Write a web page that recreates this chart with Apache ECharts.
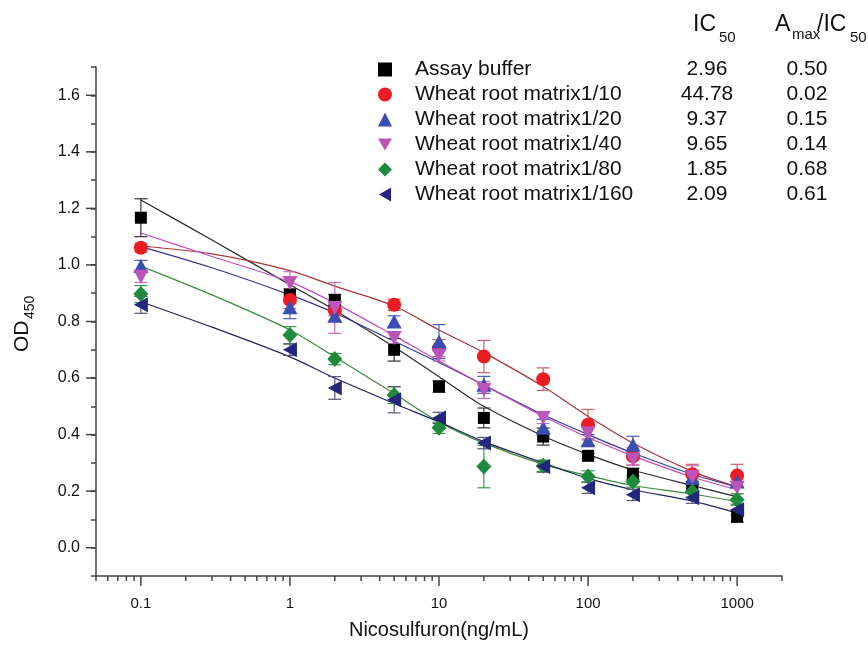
<!DOCTYPE html>
<html>
<head>
<meta charset="utf-8">
<script src="https://cdn.jsdelivr.net/npm/echarts@6/dist/echarts.min.js"></script>
<style>
html, body { margin: 0; padding: 0; background: #fff; }
#chart { width: 868px; height: 654px; }
</style>
</head>
<body>
<div id="chart"></div>
<script>
// concentrations (ng/mL)
var conc = [0.1, 1, 2, 5, 10, 20, 50, 100, 200, 500, 1000];

var names = ['Assay buffer', 'Wheat root matrix1/10', 'Wheat root matrix1/20',
             'Wheat root matrix1/40', 'Wheat root matrix1/80', 'Wheat root matrix1/160'];
var ic50 = ['2.96', '44.78', '9.37', '9.65', '1.85', '2.09'];
var ratio = ['0.50', '0.02', '0.15', '0.14', '0.68', '0.61'];

// measured OD450 and error
var bufferOD  = [1.167, 0.895, 0.876, 0.70, 0.57, 0.459, 0.393, 0.325, 0.261, 0.215, 0.11];
var bufferErr = [0.067, 0.02, 0.02, 0.04, 0.02, 0.035, 0.03, 0.01, 0.02, 0.02, 0.02];
var m10OD  = [1.061, 0.876, 0.84, 0.859, 0.706, 0.676, 0.596, 0.435, 0.323, 0.26, 0.255];
var m10Err = [0.015, 0.03, 0.02, 0.02, 0.03, 0.057, 0.04, 0.054, 0.03, 0.035, 0.04];
var m20OD  = [0.996, 0.85, 0.82, 0.80, 0.729, 0.576, 0.424, 0.38, 0.364, 0.247, 0.234];
var m20Err = [0.02, 0.04, 0.02, 0.02, 0.06, 0.03, 0.03, 0.02, 0.03, 0.02, 0.02];
var m40OD  = [0.958, 0.936, 0.848, 0.742, 0.68, 0.558, 0.459, 0.405, 0.311, 0.25, 0.212];
var m40Err = [0.02, 0.04, 0.09, 0.02, 0.02, 0.03, 0.02, 0.02, 0.02, 0.04, 0.02];
var m80OD  = [0.897, 0.752, 0.667, 0.54, 0.424, 0.287, 0.29, 0.252, 0.234, 0.199, 0.17];
var m80Err = [0.03, 0.03, 0.02, 0.03, 0.02, 0.075, 0.02, 0.02, 0.02, 0.02, 0.02];
var m160OD  = [0.859, 0.70, 0.565, 0.523, 0.459, 0.37, 0.287, 0.212, 0.187, 0.177, 0.134];
var m160Err = [0.03, 0.02, 0.04, 0.046, 0.02, 0.02, 0.02, 0.02, 0.02, 0.02, 0.02];

// fitted curves
var fitConc = [0.1, 0.3, 1, 2, 5, 10, 20, 50, 100, 200, 500, 1000];
var bufferFit = [1.23, 1.088, 0.93, 0.84, 0.71, 0.605, 0.50, 0.395, 0.33, 0.275, 0.22, 0.18];
var m10Fit  = [1.067, 1.039, 0.98, 0.925, 0.855, 0.77, 0.69, 0.57, 0.465, 0.37, 0.27, 0.215];
var m20Fit  = [1.065, 0.99, 0.894, 0.83, 0.73, 0.655, 0.575, 0.47, 0.40, 0.335, 0.26, 0.215];
var m40Fit  = [1.113, 1.03, 0.94, 0.865, 0.75, 0.66, 0.575, 0.465, 0.39, 0.325, 0.25, 0.205];
var m80Fit  = [0.996, 0.894, 0.77, 0.675, 0.545, 0.445, 0.37, 0.295, 0.255, 0.22, 0.19, 0.163];
var m160Fit = [0.87, 0.78, 0.675, 0.60, 0.51, 0.445, 0.375, 0.30, 0.245, 0.205, 0.165, 0.123];

// axis ticks
var xMajorTicks = [0.1, 1, 10, 100, 1000];
var xMinorTicks = [0.05, 0.06, 0.07, 0.08, 0.09,
                   0.2, 0.3, 0.4, 0.5, 0.6, 0.7, 0.8, 0.9,
                   2, 3, 4, 5, 6, 7, 8, 9,
                   20, 30, 40, 50, 60, 70, 80, 90,
                   200, 300, 400, 500, 600, 700, 800, 900, 2000];
var yMajorTicks = [0, 0.2, 0.4, 0.6, 0.8, 1.0, 1.2, 1.4, 1.6];

var odList = [bufferOD, m10OD, m20OD, m40OD, m80OD, m160OD];
var errList = [bufferErr, m10Err, m20Err, m40Err, m80Err, m160Err];
var fitList = [bufferFit, m10Fit, m20Fit, m40Fit, m80Fit, m160Fit];

var colors = ['#000000', '#ec1c24', '#3a4db0', '#bb55bb', '#1f8a3b', '#23267c'];
var lineColors = ['#2a2a2a', '#a8353a', '#34389a', '#c24cc2', '#3a8c3a', '#22225c'];
var errColors = ['#333333', '#d0606a', '#4a5ab8', '#c070c0', '#3a9a4a', '#555577'];
var symbols = ['rect', 'circle', 'triangle',
               'path://M0,0L2,0L1,1.732Z', 'diamond', 'path://M1.732,0L1.732,2L0,1Z'];
var sizes = [12, 14, [15, 14], [15, 14], [15, 16], [14, 15]];

var axisColor = '#444';
var font = 'Liberation Sans, Arial, sans-serif';

function errRender(params, api) {
    var x = api.value(0);
    var p1 = api.coord([x, api.value(1)]);
    var p2 = api.coord([x, api.value(2)]);
    var st = { stroke: api.visual('color'), lineWidth: 1.2 };
    return {
        type: 'group',
        children: [
            { type: 'line', shape: { x1: p1[0], y1: p1[1], x2: p2[0], y2: p2[1] }, style: st },
            { type: 'line', shape: { x1: p1[0] - 6.5, y1: p1[1], x2: p1[0] + 6.5, y2: p1[1] }, style: st },
            { type: 'line', shape: { x1: p2[0] - 6.5, y1: p2[1], x2: p2[0] + 6.5, y2: p2[1] }, style: st }
        ]
    };
}

var series = [];
for (var i = 0; i < 6; i++) {
    var fitData = [], pts = [], errs = [];
    for (var k = 0; k < fitConc.length; k++) {
        fitData.push([fitConc[k], fitList[i][k]]);
    }
    for (var j = 0; j < conc.length; j++) {
        pts.push([conc[j], odList[i][j]]);
        errs.push([conc[j], odList[i][j] - errList[i][j], odList[i][j] + errList[i][j]]);
    }
    series.push({
        name: 'fit' + i, type: 'line', data: fitData, smooth: 0.3,
        showSymbol: false, symbol: 'none', z: 2,
        lineStyle: { color: lineColors[i], width: 1.2 }
    });
    series.push({
        name: 'err' + i, type: 'custom', data: errs, renderItem: errRender,
        encode: { x: 0, y: [1, 2] }, itemStyle: { color: errColors[i] }, z: 3, silent: true
    });
    series.push({
        name: names[i], type: 'scatter', data: pts,
        symbol: symbols[i], symbolSize: sizes[i],
        itemStyle: { color: colors[i], opacity: 1 }, z: 4
    });
}

// x ticks (major and minor), y major ticks
function xTickRender(params, api) {
    var p = api.coord([api.value(0), -0.1]);
    var len = api.value(2);
    return { type: 'line', shape: { x1: p[0], y1: p[1], x2: p[0], y2: p[1] + len },
             style: { stroke: axisColor, lineWidth: 1.5 } };
}
function yTickRender(params, api) {
    var p = api.coord([0.05, api.value(1)]);
    return { type: 'line', shape: { x1: p[0] - 10, y1: p[1], x2: p[0], y2: p[1] },
             style: { stroke: axisColor, lineWidth: 1.5 } };
}
series.push({
    name: 'xticks', type: 'custom', renderItem: xTickRender, silent: true, z: 10,
    encode: { x: 0, y: 1 },
    data: xMajorTicks.map(function (v) { return [v, -0.1, 10]; })
        .concat(xMinorTicks.map(function (v) { return [v, -0.1, 5]; }))
});
series.push({
    name: 'yticks', type: 'custom', renderItem: yTickRender, silent: true, z: 10,
    encode: { x: 0, y: 1 },
    data: yMajorTicks.map(function (v) { return [0.05, v]; })
});

var option = {
    animation: false,
    backgroundColor: '#fff',
    textStyle: { fontFamily: font },
    grid: { left: 96, right: 86, top: 67, bottom: 78, containLabel: false },
    legend: {
        data: names,
        orient: 'vertical',
        left: 378, top: 59,
        padding: 0,
        itemWidth: 14, itemHeight: 14,
        itemGap: 4,
        selectedMode: false,
        itemStyle: { opacity: 1 },
        formatter: function (name) {
            var k = names.indexOf(name);
            return '{n|' + name + '}{a|' + ic50[k] + '}{b|' + ratio[k] + '}';
        },
        textStyle: {
            color: '#111',
            rich: {
                n: { fontSize: 21, width: 242, padding: [0, 0, 0, 18], lineHeight: 22, fontFamily: font },
                a: { fontSize: 21, width: 100, align: 'center', lineHeight: 22, fontFamily: font },
                b: { fontSize: 21, width: 100, align: 'center', lineHeight: 22, fontFamily: font }
            }
        }
    },
    xAxis: {
        type: 'log', logBase: 10, min: 0.05, max: 2000,
        name: 'Nicosulfuron(ng/mL)', nameLocation: 'middle', nameGap: 44,
        nameTextStyle: { fontSize: 20, color: '#111', fontFamily: font },
        axisLine: { onZero: false, lineStyle: { color: axisColor, width: 1.5 } },
        axisTick: { show: false },
        splitLine: { show: false },
        axisLabel: {
            margin: 20, fontSize: 15, color: '#111', fontFamily: font,
            formatter: function (v) {
                var l = Math.log10(v);
                if (Math.abs(l - Math.round(l)) > 1e-6) return '';
                return String(Math.pow(10, Math.round(l)) >= 1 ? Math.round(v) : Number(v.toPrecision(1)));
            }
        }
    },
    yAxis: {
        type: 'value', min: -0.1, max: 1.7, interval: 0.1,
        axisLine: { show: true, onZero: false, lineStyle: { color: axisColor, width: 1.5 } },
        axisTick: { show: true, length: 5, lineStyle: { color: axisColor, width: 1.5 } },
        splitLine: { show: false },
        axisLabel: {
            margin: 16, fontSize: 16, color: '#111', fontFamily: font,
            formatter: function (v) {
                var t = Math.round(v * 10);
                if (t < 0 || t % 2 !== 0) return '';
                return (t / 10).toFixed(1);
            }
        }
    },
    graphic: [
        { type: 'text', x: 693, y: 25, style: { text: 'IC', fill: '#111', font: '23px ' + font, verticalAlign: 'middle' } },
        { type: 'text', x: 719, y: 38, style: { text: '50', fill: '#111', font: '15px ' + font, verticalAlign: 'middle' } },
        { type: 'text', x: 775, y: 25, style: { text: 'A', fill: '#111', font: '23px ' + font, verticalAlign: 'middle' } },
        { type: 'text', x: 792, y: 35, style: { text: 'max', fill: '#111', font: '15px ' + font, verticalAlign: 'middle' } },
        { type: 'text', x: 817, y: 25, style: { text: '/IC', fill: '#111', font: '23px ' + font, verticalAlign: 'middle' } },
        { type: 'text', x: 850, y: 38, style: { text: '50', fill: '#111', font: '15px ' + font, verticalAlign: 'middle' } },
        { type: 'text', x: 22, y: 352, rotation: Math.PI / 2, style: { text: 'OD', fill: '#111', font: '21px ' + font, verticalAlign: 'middle' } },
        { type: 'text', x: 30, y: 319, rotation: Math.PI / 2, style: { text: '450', fill: '#111', font: '14px ' + font, verticalAlign: 'middle' } }
    ],
    series: series
};

var chart = echarts.init(document.getElementById('chart'));
chart.setOption(option);
</script>
</body>
</html>
